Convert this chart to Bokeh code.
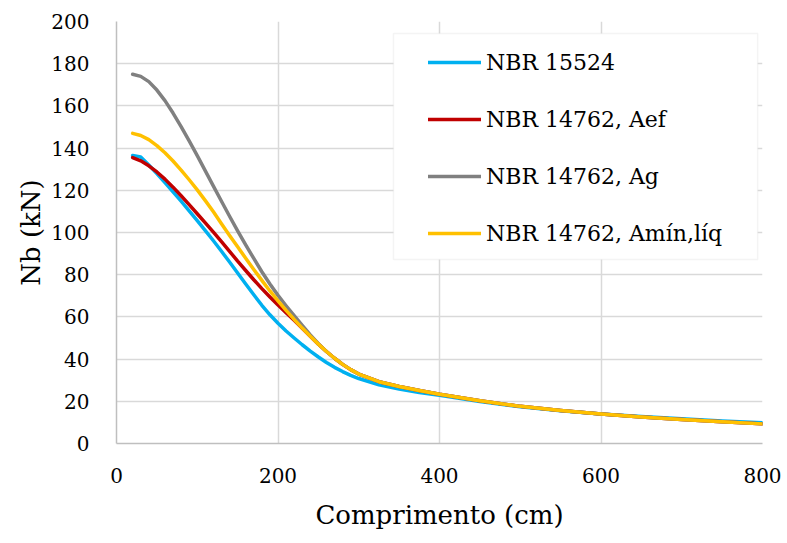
from bokeh.plotting import figure
from bokeh.models import FixedTicker, Legend, LegendItem, BoxAnnotation, Range1d
from bokeh.embed import file_html
from bokeh.resources import INLINE

# Comprimento (cm)
comprimento = [20, 30, 40, 50, 60, 70, 80, 90, 100, 110, 120, 130, 140, 150, 160, 170, 180, 190,
               200, 210, 220, 230, 240, 250, 260, 270, 280, 290, 300, 325, 350, 375, 400,
               450, 500, 550, 600, 650, 700, 750, 800]

nbr_15524 = [136.5, 135.8, 132.0, 127.9, 123.6, 119.3, 114.9, 110.3, 105.6, 100.9, 96.1, 91.1,
             86.0, 80.8, 75.6, 70.5, 65.5, 61.0, 57.0, 53.3, 50.0, 46.8, 43.8, 41.0, 38.4, 36.1,
             34.1, 32.3, 30.8, 27.8, 25.8, 24.2, 22.8, 19.9, 17.4, 15.5, 14.0, 12.8, 11.7, 10.7, 9.8]
nbr_14762_aef = [135.5, 134.0, 131.6, 128.7, 125.3, 121.5, 117.4, 113.2, 108.9, 104.6, 100.2, 95.7,
                 91.1, 86.4, 82.0, 77.6, 73.4, 69.4, 65.6, 62.0, 58.4, 54.6, 50.8, 47.1, 43.6, 40.4,
                 37.5, 35.0, 32.9, 29.3, 27.0, 25.1, 23.3, 20.3, 17.6, 15.6, 14.0, 12.6, 11.4, 10.3, 9.3]
nbr_14762_ag = [175.0, 174.0, 171.5, 167.5, 162.5, 156.6, 150.2, 143.4, 136.4, 129.2, 122.0, 114.8,
                107.7, 100.8, 94.1, 87.7, 81.4, 75.6, 70.2, 65.3, 60.6, 56.0, 51.5, 47.3, 43.6, 40.4,
                37.5, 35.0, 32.9, 29.3, 27.0, 25.1, 23.3, 20.3, 17.6, 15.6, 14.0, 12.6, 11.4, 10.3, 9.3]
nbr_14762_amin = [147.0, 146.0, 144.0, 141.2, 137.8, 133.9, 129.6, 125.0, 120.2, 115.1, 109.8, 104.2,
                  98.6, 93.2, 87.8, 82.5, 77.3, 72.3, 67.6, 63.1, 58.8, 54.7, 50.8, 47.1, 43.6, 40.4,
                  37.5, 35.0, 32.9, 29.3, 27.0, 25.1, 23.3, 20.3, 17.6, 15.6, 14.0, 12.6, 11.4, 10.3, 9.3]

series_names = ["NBR 15524", "NBR 14762, Aef", "NBR 14762, Ag", "NBR 14762, Amín,líq"]
series_values = [nbr_15524, nbr_14762_aef, nbr_14762_ag, nbr_14762_amin]
series_colors = ["#00B0F0", "#C00000", "#808080", "#FFC000"]

x_ticks = [0, 200, 400, 600, 800]
y_ticks = [0, 20, 40, 60, 80, 100, 120, 140, 160, 180, 200]

FONT = "DejaVu Serif"

p = figure(width=787, height=543, output_backend="svg", toolbar_location=None,
           x_range=Range1d(0, 800), y_range=Range1d(0, 200),
           min_border_left=116, min_border_right=25, min_border_top=21, min_border_bottom=100)
p.outline_line_color = None
p.background_fill_color = "white"
p.border_fill_color = "white"

p.xaxis.ticker = FixedTicker(ticks=x_ticks)
p.yaxis.ticker = FixedTicker(ticks=y_ticks)
for ax in (p.xaxis[0], p.yaxis[0]):
    ax.axis_line_color = "#BFBFBF"
    ax.axis_line_width = 1.5
    ax.major_tick_line_color = None
    ax.minor_tick_line_color = None
    ax.major_label_text_font = FONT
    ax.major_label_text_font_size = "20px"
    ax.major_label_text_color = "black"
    ax.axis_label_text_font = FONT
    ax.axis_label_text_font_size = "26px"
    ax.axis_label_text_font_style = "normal"
    ax.axis_label_text_color = "black"

p.xaxis.axis_label = "Comprimento (cm)"
p.yaxis.axis_label = "Nb (kN)"
p.xaxis.major_label_standoff = 18
p.xaxis.axis_label_standoff = 14
p.yaxis.major_label_standoff = 21
p.yaxis.axis_label_standoff = 2

p.xgrid.grid_line_color = "#D9D9D9"
p.ygrid.grid_line_color = "#D9D9D9"
p.xgrid.grid_line_width = 1.5
p.ygrid.grid_line_width = 1.5

renderers = []
for name, vals, col in zip(series_names, series_values, series_colors):
    r = p.line(comprimento, vals, line_color=col, line_width=3.5, line_join="round", line_cap="round")
    renderers.append(r)

# legend frame
box = BoxAnnotation(left=343, right=794, bottom=87.2, top=194.3,
                    fill_color="white", fill_alpha=1.0,
                    line_color="#D9D9D9", line_width=1.5, level="overlay")
p.add_layout(box)

legend = Legend(items=[LegendItem(label=n, renderers=[r]) for n, r in zip(series_names, renderers)],
                location=(298, 181), orientation="vertical",
                padding=14, spacing=27, glyph_width=53, glyph_height=30,
                label_height=30, label_standoff=5,
                label_text_font=FONT, label_text_font_size="22px", label_text_color="black",
                border_line_alpha=0, background_fill_alpha=0)
p.add_layout(legend, "center")

open("out.html", "w").write(file_html(p, INLINE))
